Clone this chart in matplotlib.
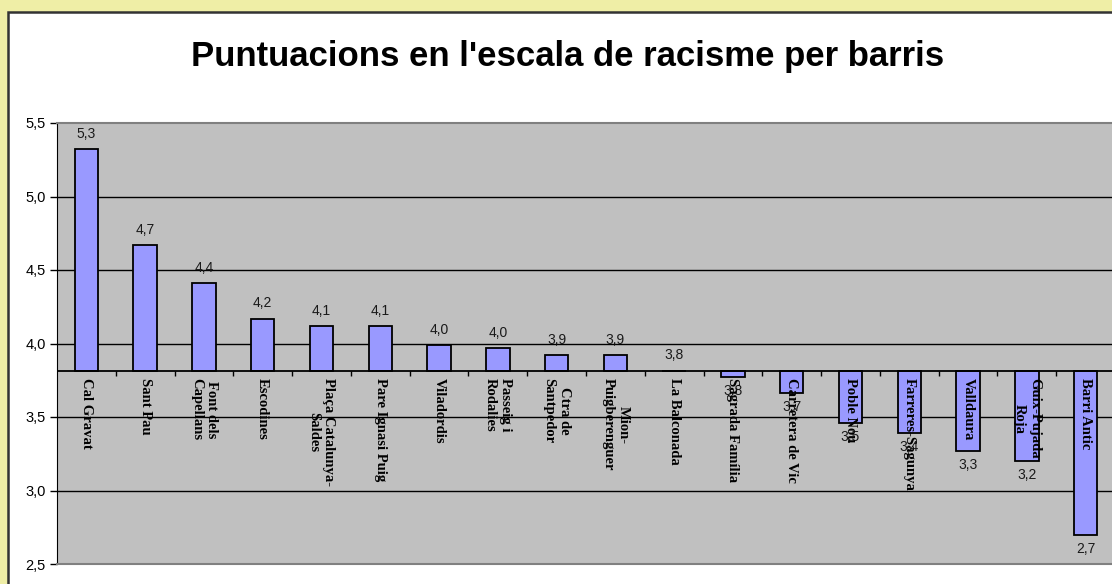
import matplotlib
matplotlib.use("Agg")
import matplotlib.pyplot as plt
from matplotlib.patches import Rectangle
from matplotlib.ticker import FuncFormatter

# dades: puntuacio mitjana per barri
barris = ["Cal Gravat", "Sant Pau", "Font dels\nCapellans", "Escodines",
          "Plaça Catalunya-\nSaldes", "Pare Ignasi Puig", "Viladordis",
          "Passeig i\nRodalies", "Ctra de\nSantpedor", "Mion-\nPuigberenguer",
          "La Balconada", "Sagrada Família", "Carretera de Vic", "Poble Nou",
          "Farreres-Sagunya", "Valldaura", "Guix-Pujada\nRoja", "Barri Antic"]
puntuacions = [5.32, 4.67, 4.41, 4.17, 4.12, 4.12, 3.99, 3.97, 3.92, 3.92,
               3.815, 3.77, 3.66, 3.46, 3.39, 3.27, 3.20, 2.70]
base = 3.81  # l'eix de categories creua aqui
yticks = [2.5, 3.0, 3.5, 4.0, 4.5, 5.0, 5.5]

plt.rcParams["font.family"] = ["Liberation Sans", "DejaVu Sans"]

W, H = 1112, 584
fig = plt.figure(figsize=(W / 100, H / 100), dpi=100)
fig.patch.set_facecolor("#EFEEA6")

# marc blanc
fig.patches.append(Rectangle((8 / W, -0.1), 1.2, 1 - 12 / H + 0.1,
                             transform=fig.transFigure, facecolor="white",
                             edgecolor="#333333", linewidth=1.8, zorder=-5))

fig.text(568 / W, 1 - 66 / H, "Puntuacions en l'escala de racisme per barris",
         ha="center", va="baseline", fontsize=25, fontweight="bold")

ax = fig.add_axes([57 / W, 20 / H, 1058 / W, 441 / H])
ax.set_zorder(2)
ax.set_facecolor("#C0C0C0")

x = list(range(len(barris)))
alcades = [p - base for p in puntuacions]
ax.bar(x, alcades, bottom=base, width=0.4, color="#9999FF",
       edgecolor="black", linewidth=1.3, zorder=3)

ax.set_xlim(-0.5, len(barris) - 0.5)
ax.set_ylim(2.5, 5.5)
ax.set_yticks(yticks)
ax.yaxis.set_major_formatter(FuncFormatter(lambda v, p: f"{v:.1f}".replace(".", ",")))
ax.tick_params(axis="y", direction="out", length=5, width=1, labelsize=10.5, pad=3)
ax.set_xticks([])

for t in yticks[1:-1]:
    ax.axhline(t, color="black", linewidth=1, zorder=1)

for s in ["top", "bottom"]:
    ax.spines[s].set_color("#808080")
    ax.spines[s].set_linewidth(1.5)
ax.spines["left"].set_color("black")
ax.spines["right"].set_visible(False)

# eix de categories
ax.axhline(base, color="black", linewidth=1.3, zorder=4)
ax.vlines([i + 0.5 for i in x[:-1]], base - 0.03, base, color="black",
          linewidth=1, zorder=4)

for i, (p, nom) in enumerate(zip(puntuacions, barris)):
    txt = f"{p:.1f}".replace(".", ",")
    if p >= base:
        ax.annotate(txt, (i, p), xytext=(0, 6), textcoords="offset points",
                    ha="center", va="bottom", fontsize=10, color="#1a1a1a", zorder=5)
    else:
        ax.annotate(txt, (i, p), xytext=(0, -5), textcoords="offset points",
                    ha="center", va="top", fontsize=10, color="#1a1a1a", zorder=5)
    ax.annotate(nom, (i, base), xytext=(0, -5), textcoords="offset points",
                ha="center", va="top", rotation=-90, multialignment="center",
                fontsize=10.5, fontweight="bold", family="Liberation Serif", zorder=6)

fig.savefig("out.png", dpi=100, facecolor=fig.get_facecolor())
